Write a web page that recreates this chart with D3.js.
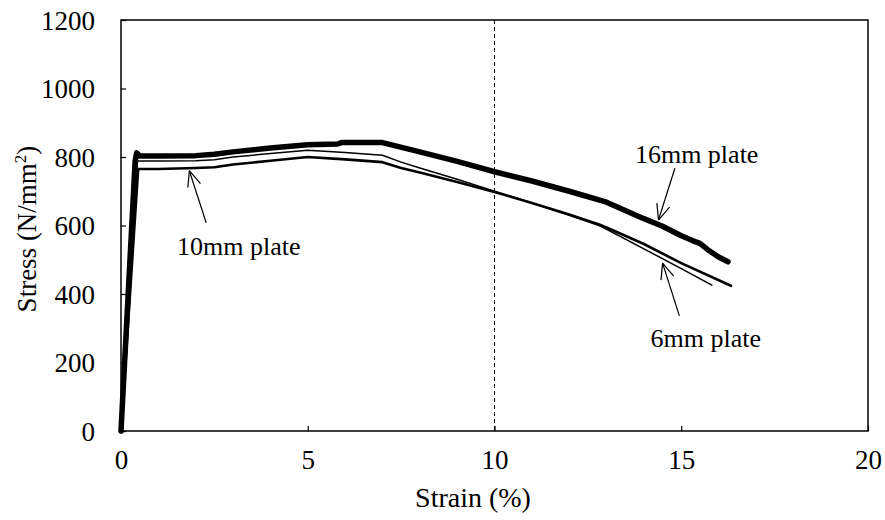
<!DOCTYPE html>
<html>
<head>
<meta charset="utf-8">
<script src="https://cdn.jsdelivr.net/npm/d3@7/dist/d3.min.js"></script>
<style>
  html, body { margin: 0; padding: 0; background: #fff; }
  svg { display: block; }
</style>
</head>
<body>
<svg id="chart" width="885" height="520"></svg>
<script>
// ---------- data ----------
const strain16 = [0, 0.38, 0.42, 0.5, 1, 2, 2.5, 3, 4, 5, 5.8, 5.9, 7, 8, 9, 10, 11, 12, 13, 14, 14.5, 15, 15.3, 15.5, 15.7, 16, 16.25];
const stress16 = [0, 790, 812, 803, 803, 804, 808, 815, 826, 836, 838, 842, 842, 815, 787, 757, 730, 700, 668, 620, 598, 570, 556, 548, 530, 508, 494];

const strain10 = [0, 0.46, 1, 2, 2.5, 3, 4, 5, 6, 7, 7.5, 8, 9, 10, 11, 12, 12.8, 13, 14, 15, 16.33];
const stress10 = [0, 765, 765, 768, 770, 778, 789, 800, 793, 785, 768, 755, 727, 698, 666, 632, 603, 594, 546, 490, 424];

const strain6 = [0, 0.44, 1, 2, 2.5, 3, 4, 5, 6, 7, 7.5, 8, 9, 10, 11, 12, 12.8, 13, 14, 15, 15.82];
const stress6 = [0, 788, 788, 789, 792, 800, 810, 820, 813, 805, 785, 768, 735, 700, 666, 630, 600, 589, 532, 474, 426];

const xTicks = [0, 5, 10, 15, 20];
const yTicks = [0, 200, 400, 600, 800, 1000, 1200];
const refStrain = 10;

// annotation: label, label anchor, arrow tail, arrow tip (data coordinates)
const annLabels = ["16mm plate", "10mm plate", "6mm plate"];
const annLabelPos = [[13.76, 782], [1.5, 514], [14.18, 244]];
const annTail = [[14.83, 767], [2.28, 608], [14.95, 336]];
const annTip = [[14.39, 616], [1.83, 760], [14.5, 490]];

// ---------- drawing ----------
const FONT = "Liberation Serif";
const svg = d3.select("#chart");
const x = d3.scaleLinear().domain([0, 20]).range([121, 868]);
const y = d3.scaleLinear().domain([0, 1200]).range([431, 20]);

// reference dashed line
svg.append("line")
  .attr("x1", x(refStrain)).attr("x2", x(refStrain))
  .attr("y1", y(1200)).attr("y2", y(0))
  .attr("stroke", "#000").attr("stroke-width", 1)
  .attr("stroke-dasharray", "4,3");

// axes with inner ticks
const xAxis = d3.axisBottom(x).tickValues(xTicks).tickSizeInner(-5).tickSizeOuter(0).tickFormat(d3.format("d"));
const yAxis = d3.axisLeft(y).tickValues(yTicks).tickSizeInner(-5).tickSizeOuter(0).tickFormat(d3.format("d"));

const gx = svg.append("g").attr("transform", `translate(0,${y(0)})`).call(xAxis)
  .attr("font-family", null).attr("font-size", null);
gx.select(".domain").remove();
gx.selectAll(".tick line").attr("stroke", "#000").attr("stroke-width", 1.2);
gx.selectAll(".tick text").style("font-family", FONT).attr("font-size", 27).attr("fill", "#000").attr("y", 19).attr("dy", "0.71em");

const gy = svg.append("g").attr("transform", `translate(${x(0)},0)`).call(yAxis)
  .attr("font-family", null).attr("font-size", null);
gy.select(".domain").remove();
gy.selectAll(".tick line").attr("stroke", "#000").attr("stroke-width", 1.2);
gy.selectAll(".tick text").style("font-family", FONT).attr("font-size", 27).attr("fill", "#000").attr("x", -26).attr("dy", "0.34em");

// frame
svg.append("rect")
  .attr("x", x(0)).attr("y", y(1200))
  .attr("width", x(20) - x(0)).attr("height", y(0) - y(1200))
  .attr("fill", "none").attr("stroke", "#000").attr("stroke-width", 1.5);

// curves
const line = d3.line().x(d => x(d[0])).y(d => y(d[1]));
const series = [
  { xs: strain6, ys: stress6, w: 1.5 },
  { xs: strain10, ys: stress10, w: 2.6 },
  { xs: strain16, ys: stress16, w: 5.5 }
];
series.forEach(s => {
  svg.append("path")
    .datum(s.xs.map((v, i) => [v, s.ys[i]]))
    .attr("d", line)
    .attr("fill", "none").attr("stroke", "#000")
    .attr("stroke-width", s.w)
    .attr("stroke-linejoin", "round").attr("stroke-linecap", "round");
});

// annotations
annLabels.forEach((lab, i) => {
  svg.append("text")
    .attr("x", x(annLabelPos[i][0])).attr("y", y(annLabelPos[i][1]))
    .style("font-family", FONT).attr("font-size", 26).attr("fill", "#000")
    .text(lab);
  const tx = x(annTip[i][0]), ty = y(annTip[i][1]);
  const sx = x(annTail[i][0]), sy = y(annTail[i][1]);
  svg.append("line").attr("x1", sx).attr("y1", sy).attr("x2", tx).attr("y2", ty)
    .attr("stroke", "#000").attr("stroke-width", 1.2);
  const ang = Math.atan2(sy - ty, sx - tx);
  const L = 17, a = 23 * Math.PI / 180;
  [ang - a, ang + a].forEach(t => {
    svg.append("line").attr("x1", tx).attr("y1", ty)
      .attr("x2", tx + L * Math.cos(t)).attr("y2", ty + L * Math.sin(t))
      .attr("stroke", "#000").attr("stroke-width", 1.2);
  });
});

// axis titles
svg.append("text")
  .attr("x", 473).attr("y", 507)
  .attr("text-anchor", "middle")
  .style("font-family", FONT).attr("font-size", 28).attr("fill", "#000")
  .text("Strain (%)");

const yt = svg.append("text")
  .attr("transform", `translate(36,229) rotate(-90)`)
  .attr("text-anchor", "middle")
  .style("font-family", FONT).attr("font-size", 27).attr("fill", "#000");
yt.append("tspan").text("Stress (N/mm");
yt.append("tspan").attr("font-size", 17).attr("dy", -10).text("2");
yt.append("tspan").attr("dy", 10).text(")");
</script>
</body>
</html>
